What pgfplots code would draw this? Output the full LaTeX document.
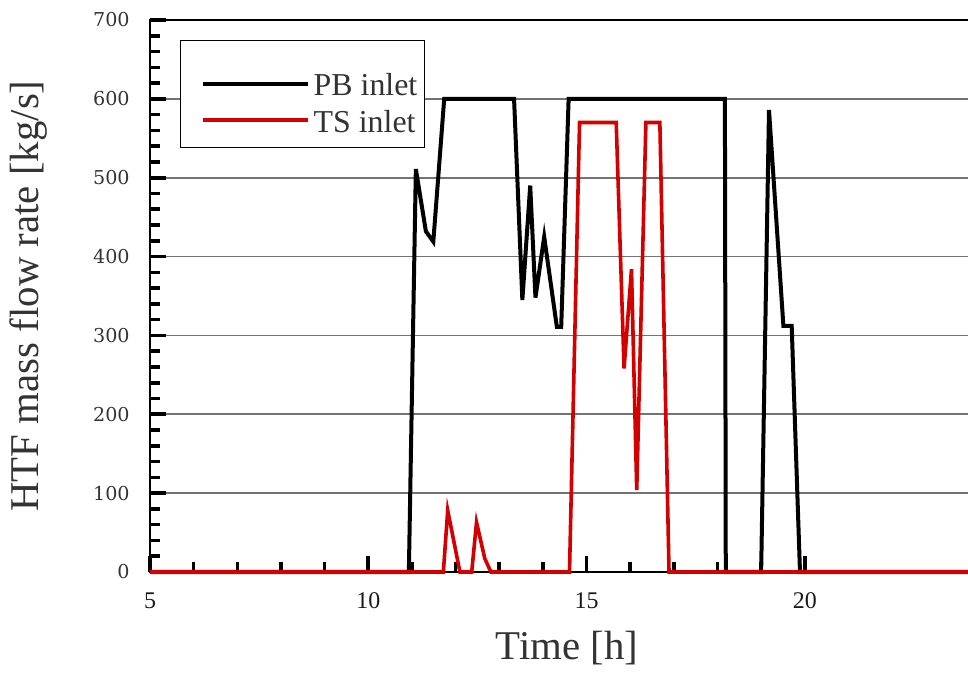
\documentclass[border=0pt]{standalone}
\usepackage{fontspec}
\setmainfont{Liberation Serif}
\newfontfamily\tickfont{DejaVu Serif}
\usepackage{pgfplots}
\pgfplotsset{compat=1.18}
\definecolor{pbline}{HTML}{000000}
\definecolor{tsline}{HTML}{D40000}
\definecolor{txt}{HTML}{333333}

\begin{document}
\begin{tikzpicture}
\begin{axis}[
  scale only axis, width=414.7bp, height=276bp,
  xmin=5, xmax=24, ymin=0, ymax=700, clip=false,
  xtick={5,10,15,20}, minor x tick num=4,
  ytick={0,100,...,700}, minor y tick num=4,
  xtick pos=left, ytick pos=left, tick align=inside,
  major tick length=8bp, minor tick length=5bp,
  tick style={black, line width=1.8bp},
  axis line style={black, line width=1.3bp},
  ymajorgrids, grid style={black!55, line width=0.8bp},
  /pgf/number format/assume math mode=true,
  xticklabel style={font=\fontsize{12}{14}\selectfont, text=black!90, inner sep=0pt, yshift=-10bp},
  yticklabel style={font=\tickfont\fontsize{9.6}{11}\selectfont, text=txt, inner sep=0pt, xshift=-10bp},
  xlabel={Time [h]}, ylabel={HTF mass flow rate [kg/s]},
  xlabel style={font=\fontsize{20.5}{24}\selectfont, text=txt, at={(axis description cs:0.503,-0.1377)}, anchor=center},
  ylabel style={font=\fontsize{20.5}{24}\selectfont, text=txt, at={(axis description cs:-0.147,0.5)}, anchor=center},
  legend cell align=left,
  legend image code/.code={\path (0bp,6bp); \draw[#1] (6.5bp,6bp) -- (59bp,6bp);},
  legend style={at={(axis description cs:0.0362,0.9638)}, anchor=north west,
    draw=black, line width=0.7bp, fill=white, font=\fontsize{16}{19}\selectfont, text=txt,
    inner xsep=3.5bp, inner ysep=3bp, row sep=-10.9bp, column sep=2bp,
    cells={anchor=base west},
    nodes={inner sep=0bp, text height=24.5bp, text depth=4.7bp}},
]
\addplot[pbline, line width=2bp] coordinates {
  (5,0) (10.93,0) (11.09,511) (11.32,432) (11.49,419) (11.74,600) (13.34,600)
  (13.53,345) (13.71,490) (13.83,348) (14.03,425) (14.32,311) (14.42,311)
  (14.59,600) (18.17,600) (18.19,0) (19.00,0) (19.18,586) (19.51,312)
  (19.70,312) (19.89,0) (24,0)
};
\addplot[tsline, line width=1.8bp] coordinates {
  (5,0) (11.72,0) (11.82,78) (12.10,0) (12.37,0) (12.48,63) (12.67,17)
  (12.81,0) (14.61,0) (14.84,570) (15.68,570) (15.86,258) (16.03,384)
  (16.15,104) (16.36,570) (16.68,570) (16.89,0) (24,0)
};
\legend{PB inlet, TS inlet}
\end{axis}
\pgfresetboundingbox
\path[use as bounding box] ([xshift=-75bp,yshift=-50.5bp]current axis.south west) rectangle ++(484bp,336.5bp);
\end{tikzpicture}
\end{document}
